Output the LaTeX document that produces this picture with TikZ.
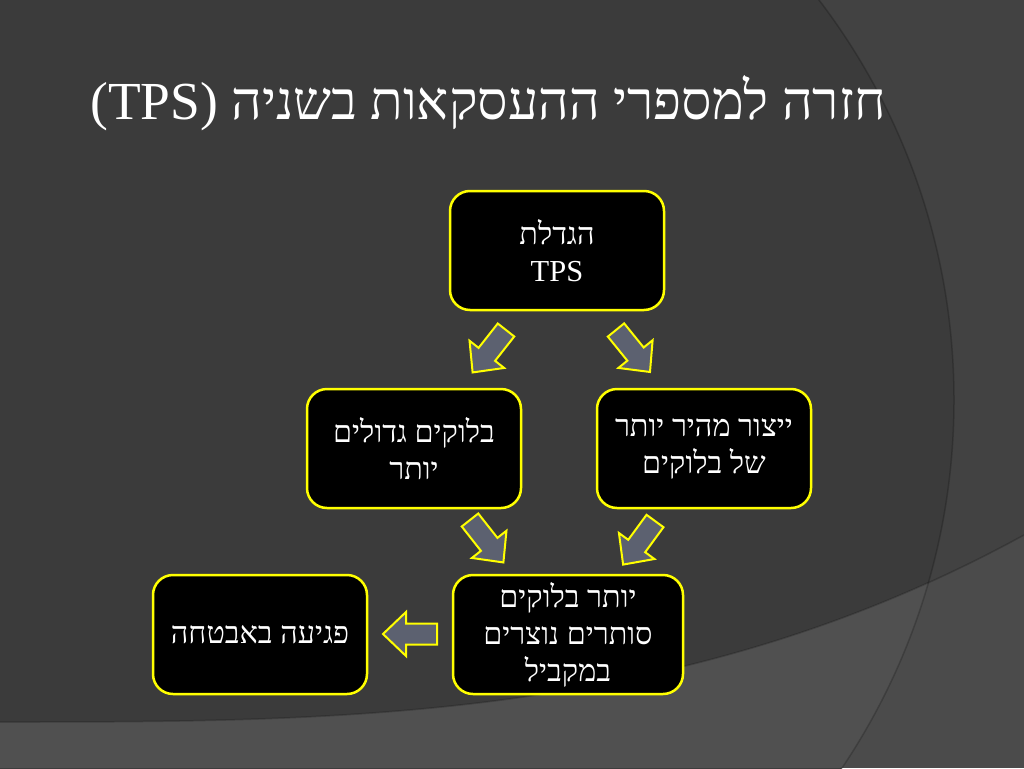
\documentclass[tikz,border=0pt]{standalone}
\usepackage{fontspec}
\setmainfont{Liberation Serif}[Script=Hebrew]
\TeXXeTstate=1
\newcommand{\heb}[1]{\beginR #1\endR}
\definecolor{bgA}{HTML}{3B3B3B}
\definecolor{bgR}{HTML}{424242}
\definecolor{bandA}{HTML}{505050}
\definecolor{bandR}{HTML}{4B4B4B}
\definecolor{arrowfill}{HTML}{5C6170}
\definecolor{boxline}{HTML}{FFFF00}
\tikzset{
  box/.style={draw=boxline, fill=black, line width=2.5pt, rounded corners=20pt,
    minimum width=214pt, minimum height=119pt, inner sep=0pt, text=white,
    align=center, font=\fontsize{30.5}{37}\selectfont},
  arrowstyle/.style={draw=boxline, fill=arrowfill, line width=2pt, line join=miter},
  blockarrow/.pic={\draw[arrowstyle] (0,-10.5) -- (31,-10.5) -- (31,-22) -- (54,0) -- (31,22) -- (31,10.5) -- (0,10.5) -- cycle;},
  shadowline/.style={draw=black, opacity=0.2, line width=1.5pt}
}
\begin{document}
\begin{tikzpicture}[x=1pt,y=-1pt]
\useasboundingbox (0,0) rectangle (1024,768);
\begin{scope}
\clip (0,0) rectangle (1024,768);
\fill[bgR] (0,0) rectangle (1024,768);
\fill[bgA] (294,400) circle[radius=660pt];
\begin{scope}
\clip (0,722) .. controls (341,722) and (683,722) .. (1024,535) -- (1024,768) -- (0,768) -- cycle;
\fill[bandR] (0,0) rectangle (1024,768);
\fill[bandA] (294,400) circle[radius=660pt];
\end{scope}
\draw[shadowline] (294,400) circle[radius=660pt];
\draw[shadowline] (0,722) .. controls (341,722) and (683,722) .. (1024,535);
\end{scope}

\node[anchor=base, text=white, font=\fontsize{53.5}{60}\selectfont, inner sep=0pt] (title) at (488,119)
  {(TPS) \heb{חזרה למספרי ההעסקאות בשניה}};

\node[box] (top) at (557,250.5) {\heb{הגדלת}\\TPS};
\node[box] (midL) at (414,448.5) {\heb{בלוקים גדולים}\\\heb{יותר}};
\node[box] (midR) at (704,448.5) {\heb{ייצור מהיר יותר}\\\heb{של בלוקים}};
\node[box, minimum width=230pt] (botC) at (568,634.5) {\heb{יותר בלוקים}\\\heb{סותרים נוצרים}\\\heb{במקביל}};
\node[box] (botL) at (260,634.5) {\heb{פגיעה באבטחה}};

\path (506,330) pic[rotate=231.8] {blockarrow};
\path (616,330) pic[rotate=-51.0] {blockarrow};
\path (470,520) pic[rotate=-51.8] {blockarrow};
\path (655,521) pic[rotate=233.8] {blockarrow};
\path (437,634) pic[rotate=180] {blockarrow};
\end{tikzpicture}
\end{document}
